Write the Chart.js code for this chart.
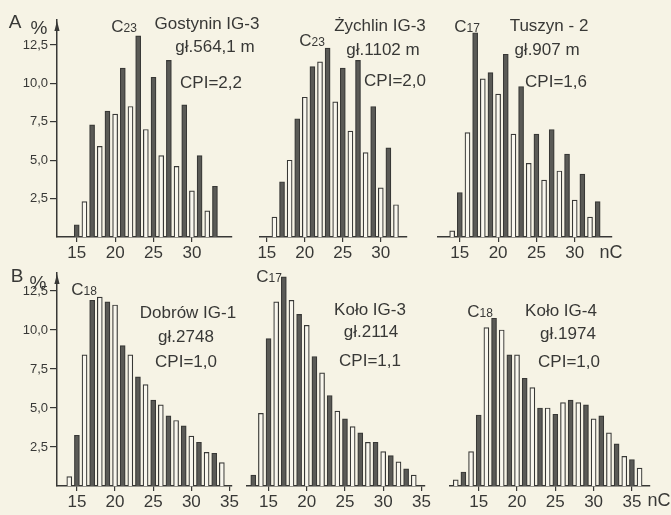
<!DOCTYPE html>
<html>
<head>
<meta charset="utf-8">
<script src="https://cdn.jsdelivr.net/npm/chart.js@4.4.1/dist/chart.umd.min.js"></script>
<style>
html,body{margin:0;padding:0;background:#f6f3e5;}
#wrap{position:relative;width:671px;height:515px;overflow:hidden;background:#f6f3e5;}
canvas{position:absolute;left:0;top:0;pointer-events:none;}
.t{position:absolute;transform:translate(-50%,-50%);font-family:"Liberation Sans",Arial,sans-serif;color:#383836;white-space:nowrap;font-size:17px;line-height:1;}
.t small{font-size:12px;}
.big{font-size:19px;}
</style>
</head>
<body>
<div id="wrap">
<canvas id="cA1" width="671" height="515"></canvas>
<canvas id="cA2" width="671" height="515"></canvas>
<canvas id="cA3" width="671" height="515"></canvas>
<canvas id="cB1" width="671" height="515"></canvas>
<canvas id="cB2" width="671" height="515"></canvas>
<canvas id="cB3" width="671" height="515"></canvas>

<div class="t big" style="left:15px;top:21px;">A</div>
<div class="t big" style="left:39px;top:27px;">%</div>
<div class="t big" style="left:17px;top:275px;">B</div>
<div class="t big" style="left:38px;top:282px;">%</div>

<div class="t" style="left:124px;top:26px;">C<small>23</small></div>
<div class="t" style="left:207px;top:23px;">Gostynin IG-3</div>
<div class="t" style="left:215px;top:46px;">gł.564,1 m</div>
<div class="t" style="left:211px;top:82px;">CPI=2,2</div>

<div class="t" style="left:312px;top:40px;">C<small>23</small></div>
<div class="t" style="left:380px;top:25px;">Żychlin IG-3</div>
<div class="t" style="left:383px;top:49px;">gł.1102 m</div>
<div class="t" style="left:395px;top:80px;">CPI=2,0</div>

<div class="t" style="left:467px;top:26px;">C<small>17</small></div>
<div class="t" style="left:549px;top:25px;">Tuszyn - 2</div>
<div class="t" style="left:547px;top:49px;">gł.907 m</div>
<div class="t" style="left:556px;top:81px;">CPI=1,6</div>
<div class="t" style="left:611px;top:252px;font-size:18px;">nC</div>

<div class="t" style="left:84px;top:289px;">C<small>18</small></div>
<div class="t" style="left:188px;top:312px;">Dobrów IG-1</div>
<div class="t" style="left:186px;top:336px;">gł.2748</div>
<div class="t" style="left:186px;top:361px;">CPI=1,0</div>

<div class="t" style="left:269px;top:276px;">C<small>17</small></div>
<div class="t" style="left:370px;top:309px;">Koło IG-3</div>
<div class="t" style="left:371px;top:331px;">gł.2114</div>
<div class="t" style="left:370px;top:360px;">CPI=1,1</div>

<div class="t" style="left:480px;top:311px;">C<small>18</small></div>
<div class="t" style="left:561px;top:310px;">Koło IG-4</div>
<div class="t" style="left:568px;top:333px;">gł.1974</div>
<div class="t" style="left:569px;top:361px;">CPI=1,0</div>
<div class="t" style="left:659px;top:500px;font-size:18px;">nC</div>
</div>

<script>
// ---- data (carbon number n-alkanes, % share) ----
const gostyninCarbons = [15,16,17,18,19,20,21,22,23,24,25,26,27,28,29,30,31,32,33];
const gostyninValues  = [0.8,2.3,7.3,5.9,8.2,8.0,11.0,8.5,13.1,7.0,10.4,5.3,11.5,4.6,8.6,3.0,5.3,1.7,3.3];

const zychlinCarbons = [16,17,18,19,20,21,22,23,24,25,26,27,28,29,30,31,32];
const zychlinValues  = [1.3,3.6,5.0,7.7,9.1,11.1,11.4,12.3,8.8,11.0,6.9,11.5,5.5,8.5,3.2,5.8,2.1];

const tuszynCarbons = [14,15,16,17,18,19,20,21,22,23,24,25,26,27,28,29,30,31,32,33];
const tuszynValues  = [0.4,2.9,6.8,13.3,10.3,10.7,9.3,11.9,6.7,9.8,4.8,6.7,3.7,7.0,4.3,5.4,2.4,4.1,1.3,2.3];

const dobrowCarbons = [14,15,16,17,18,19,20,21,22,23,24,25,26,27,28,29,30,31,32,33,34];
const dobrowValues  = [0.6,3.25,8.4,11.9,12.1,11.8,11.6,9.0,8.4,7.0,6.5,5.5,5.2,4.5,4.2,3.85,3.2,2.8,2.15,2.1,1.5];

const kolo3Carbons = [13,14,15,16,17,18,19,20,21,22,23,24,25,26,27,28,29,30,31,32,33,34];
const kolo3Values  = [0.7,4.65,9.45,11.8,13.4,11.9,11.0,10.3,8.3,7.25,5.8,4.8,4.3,3.8,3.4,2.8,2.8,2.2,1.95,1.55,1.1,0.7];

const kolo4Carbons = [12,13,14,15,16,17,18,19,20,21,22,23,24,25,26,27,28,29,30,31,32,33,34,35,36];
const kolo4Values  = [0.4,0.9,2.2,4.55,10.15,10.75,10.0,8.4,8.4,6.9,6.3,5.0,5.0,4.6,5.35,5.5,5.35,5.2,4.3,4.5,3.4,2.7,1.9,1.7,1.15];

const xTicksA = [15,20,25,30];
const xTicksB = [15,20,25,30,35];
const yTicks = [2.5,5,7.5,10,12.5];
const yTickLabels = ['2,5','5,0','7,5','10,0','12,5'];

// ---- style ----
const INK = '#383836';
const DARK = '#5a5a56';
const LIGHT = '#f9f7ee';
const FONT = '"Liberation Sans", Arial, sans-serif';

const arrowPlugin = {
  id: 'yArrow',
  afterDraw(chart, args, opts) {
    if (!opts.show) return;
    const ca = chart.chartArea, ctx = chart.ctx;
    const x = ca.left, y = ca.top;
    ctx.save();
    ctx.fillStyle = INK;
    ctx.beginPath();
    ctx.moveTo(x, y + 1);
    ctx.lineTo(x - 2.6, y + 11);
    ctx.lineTo(x + 2.6, y + 11);
    ctx.closePath();
    ctx.fill();
    ctx.restore();
  }
};

function makePanel(id, carbons, values, cfg) {
  const hasY = cfg.hasY;
  new Chart(document.getElementById(id), {
    type: 'bar',
    data: {
      datasets: [{
        data: carbons.map((c, i) => ({x: c, y: values[i]})),
        backgroundColor: carbons.map(c => (c % 2 ? DARK : LIGHT)),
        borderColor: INK,
        borderWidth: 1.2,
        barThickness: 5,
        borderSkipped: 'start'
      }]
    },
    options: {
      responsive: false,
      animation: false,
      devicePixelRatio: 1,
      events: [],
      layout: {
        padding: {
          left: hasY ? cfg.left - 57 : cfg.left,
          right: 671 - cfg.right,
          top: cfg.top,
          bottom: 515 - cfg.zero - 28
        }
      },
      plugins: {
        legend: {display: false},
        tooltip: {enabled: false},
        yArrow: {show: hasY}
      },
      scales: {
        x: {
          type: 'linear',
          min: cfg.xmin,
          max: cfg.xmax,
          offset: false,
          afterBuildTicks: s => { s.ticks = cfg.xTicks.map(v => ({value: v})); },
          afterFit: s => { s.height = 28; },
          grid: {drawOnChartArea: false, drawTicks: true, tickLength: 5, color: INK, lineWidth: 1.2, offset: false},
          border: {display: true, color: INK, width: 1.5},
          ticks: {color: INK, font: {family: FONT, size: 17}, padding: 1, maxRotation: 0, autoSkip: false,
                   callback: v => String(v)}
        },
        y: {
          display: hasY,
          min: 0,
          max: cfg.ymax,
          afterBuildTicks: s => { s.ticks = yTicks.map(v => ({value: v})); },
          afterFit: s => { s.width = hasY ? 57 : 0; },
          grid: {drawOnChartArea: false, drawTicks: true, tickLength: 7, color: INK, lineWidth: 1.2},
          border: {display: true, color: INK, width: 1.5},
          ticks: {color: INK, font: {family: FONT, size: 13}, padding: 2,
                  callback: v => yTickLabels[yTicks.indexOf(v)]}
        }
      }
    },
    plugins: [arrowPlugin]
  });
}

makePanel('cA1', gostyninCarbons, gostyninValues, {hasY: true,  left: 57,  right: 232, top: 20, zero: 237, ymax: 14.13, xmin: 12.43, xmax: 35.22, xTicks: xTicksA});
makePanel('cA2', zychlinCarbons,  zychlinValues,  {hasY: false, left: 260, right: 407, top: 20, zero: 237, ymax: 14.13, xmin: 14.1,  xmax: 33.45, xTicks: xTicksA});
makePanel('cA3', tuszynCarbons,   tuszynValues,   {hasY: false, left: 438, right: 612, top: 20, zero: 237, ymax: 14.13, xmin: 12.15, xmax: 34.87, xTicks: xTicksA});
makePanel('cB1', dobrowCarbons,   dobrowValues,   {hasY: true,  left: 57,  right: 232, top: 273, zero: 486, ymax: 13.65, xmin: 12.39, xmax: 35.33, xTicks: xTicksB});
makePanel('cB2', kolo3Carbons,    kolo3Values,    {hasY: false, left: 247, right: 425, top: 273, zero: 486, ymax: 13.65, xmin: 12.18, xmax: 35.47, xTicks: xTicksB});
makePanel('cB3', kolo4Carbons,    kolo4Values,    {hasY: false, left: 450, right: 650, top: 273, zero: 486, ymax: 13.65, xmin: 11.25, xmax: 37.36, xTicks: xTicksB});
</script>
</body>
</html>
